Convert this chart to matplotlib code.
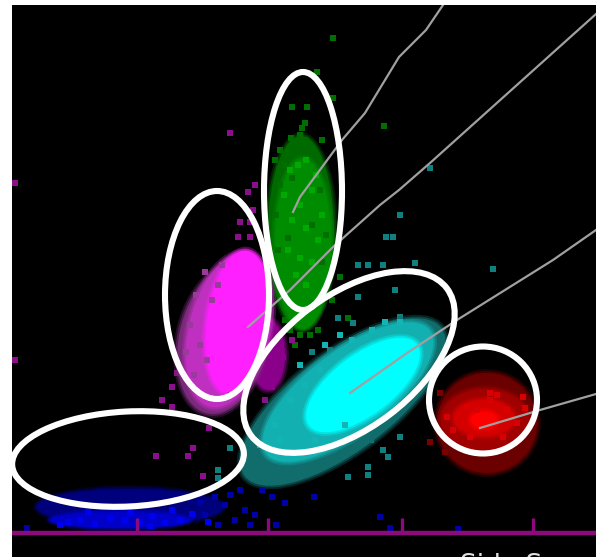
from matplotlib import pyplot as plt
from matplotlib.patches import Ellipse

W, H = 596, 557

# gates: x, y, width, height, angle (pixels of the picture)
GATES = [
    (303, 191, 78, 238, 0),
    (217, 295, 104, 208, 0),
    (349, 362, 245, 133, -37),
    (483, 400, 108, 107, 0),
    (128, 459, 232, 95, -3),
]

# populations, dim to bright
GREEN_BLOB = [(301, 232, 66, 192, 0, '#006a00'), (303, 244, 56, 170, 0, '#008c00')]
MAGENTA_BLOB = [(268, 355, 34, 70, 0, '#8a008a'), (223, 340, 88, 150, 12, '#7a2a7a'),
                (229, 330, 80, 158, 14, '#c030c0'), (237, 322, 60, 144, 8, '#ff20ff')]
CYAN_BLOB = [(343, 402, 246, 98, -37, '#116c6c'), (348, 392, 205, 82, -37, '#12b0b0'),
             (363, 385, 135, 60, -37, '#00ffff')]
RED_BLOB = [(487, 423, 100, 100, 0, '#6a0000'), (485, 420, 88, 62, 0, '#a00000'),
            (484, 418, 60, 36, 0, '#d40000'), (484, 420, 26, 16, 0, '#ff0000')]
BLUE_BLOB = [(130, 507, 186, 36, 0, '#00007c'), (120, 520, 140, 16, 0, '#0000c8')]

GREEN_DOTS_X = [333, 317, 333, 292, 307, 305, 302, 384, 291, 300, 305, 322, 280, 275, 285, 290, 300,
                310, 318, 295, 305, 318, 340, 332, 348]
GREEN_DOTS_Y = [38, 72, 98, 107, 107, 123, 128, 126, 138, 135, 140, 140, 150, 160, 320, 330, 335, 335,
                330, 345, 318, 310, 277, 300, 318]
GREEN_LIGHT_X = [290, 298, 306, 316, 284, 300, 312, 322, 292, 306, 318, 288, 300, 312, 296, 306]
GREEN_LIGHT_Y = [170, 165, 160, 175, 195, 205, 190, 215, 220, 228, 240, 250, 258, 262, 275, 285]
GREEN_DARK_X = [284, 280, 292, 320, 312, 276, 326, 288, 322, 278]
GREEN_DARK_Y = [165, 185, 178, 190, 225, 215, 235, 238, 262, 250]

CYAN_DOTS_X = [430, 393, 386, 400, 358, 368, 383, 415, 493, 358, 395, 338, 353, 400, 312, 300, 388,
               368, 368, 348, 400, 230, 218, 218, 371, 383, 330, 290, 264, 412]
CYAN_DOTS_Y = [168, 237, 237, 215, 265, 265, 265, 263, 269, 297, 290, 318, 323, 317, 352, 365, 457,
               467, 475, 477, 437, 448, 470, 478, 440, 450, 350, 455, 465, 375]
CYAN_MID_X = [325, 340, 352, 372, 385, 400, 320, 305, 290, 275, 300, 260, 280, 315, 345]
CYAN_MID_Y = [345, 335, 340, 330, 322, 322, 370, 385, 400, 425, 365, 445, 440, 440, 425]

MAGENTA_DOTS_X = [15, 15, 230, 248, 255, 240, 250, 253, 238, 250, 162, 172, 172, 177, 209, 193, 188,
                  156, 203, 273, 272, 265, 283, 292, 275]
MAGENTA_DOTS_Y = [183, 360, 133, 192, 185, 222, 222, 210, 237, 237, 400, 387, 407, 373, 428, 448, 456,
                  456, 476, 373, 387, 400, 357, 340, 330]
MAGENTA_DARK_X = [205, 196, 212, 190, 200, 218, 207, 194, 186, 222, 230]
MAGENTA_DARK_Y = [272, 295, 300, 325, 345, 285, 360, 375, 352, 265, 395]

RED_DOTS_X = [467, 490, 497, 523, 447, 477, 507, 453, 517, 470, 503, 490, 525]
RED_DOTS_Y = [407, 393, 395, 397, 417, 410, 410, 430, 423, 437, 437, 400, 408]
RED_DARK_X = [440, 430, 445]
RED_DARK_Y = [393, 442, 452]

BLUE_DOTS_X = [215, 230, 240, 225, 245, 255, 205, 235, 262, 272, 314, 285, 276, 380, 390, 458, 27, 200,
               218, 250]
BLUE_DOTS_Y = [497, 495, 490, 505, 510, 515, 515, 520, 490, 497, 497, 503, 525, 517, 528, 529, 528,
               503, 525, 525]
BLUE_LIGHT_X = [68, 80, 95, 110, 125, 140, 152, 165, 180, 192, 130, 172, 208, 88, 60, 150]
BLUE_LIGHT_Y = [522, 520, 524, 518, 520, 522, 516, 523, 520, 514, 513, 510, 522, 512, 525, 526]

# back-gating traces
TRACE_1_X = [443, 426, 399, 365, 342, 300, 293]
TRACE_1_Y = [5, 30, 57, 113, 140, 197, 212]
TRACE_2_X = [596, 430, 399, 380, 333, 290, 248]
TRACE_2_Y = [14, 163, 190, 205, 247, 290, 327]
TRACE_3_X = [596, 553, 457, 407, 350]
TRACE_3_Y = [230, 260, 320, 353, 393]
TRACE_4_X = [596, 540, 480]
TRACE_4_Y = [394, 410, 428]

AXIS_COLOR = '#8c0a7c'
TICKS = [137, 268, 402, 533]


def draw_blob(ax, layers):
    # a wider see-through ring under each layer keeps the edge soft
    for x, y, w, h, angle, color in layers:
        for grow, alpha in [(8, 0.3), (4, 0.5), (0, 1)]:
            ax.add_patch(Ellipse((x, y), w + grow, h + grow, angle=angle, facecolor=color,
                                 edgecolor='none', alpha=alpha, zorder=2))


def draw_dots(ax, xs, ys, color, zorder=3):
    ax.scatter(xs, ys, s=20, marker='s', color=color, linewidths=0, zorder=zorder)


fig = plt.figure(figsize=(W / 100, H / 100), dpi=100, facecolor='white')
ax = fig.add_axes([12 / W, 0, (W - 12) / W, (H - 5) / H])
ax.set_facecolor('black')
ax.set_xlim(12, W)
ax.set_ylim(H, 5)
ax.axis('off')
ax.add_patch(plt.Rectangle((12, 5), W - 12, H - 5, color='black', zorder=0))

draw_blob(ax, BLUE_BLOB)
draw_dots(ax, BLUE_DOTS_X, BLUE_DOTS_Y, '#0000a8')
draw_dots(ax, BLUE_LIGHT_X, BLUE_LIGHT_Y, '#0000f0')
draw_blob(ax, RED_BLOB)
draw_dots(ax, RED_DOTS_X, RED_DOTS_Y, '#d80000')
draw_dots(ax, RED_DARK_X, RED_DARK_Y, '#7a0000')
draw_dots(ax, GREEN_DOTS_X, GREEN_DOTS_Y, '#006f00', zorder=1)
draw_blob(ax, GREEN_BLOB)
draw_dots(ax, GREEN_LIGHT_X, GREEN_LIGHT_Y, '#00aa00')
draw_dots(ax, GREEN_DARK_X, GREEN_DARK_Y, '#006f00')
draw_blob(ax, MAGENTA_BLOB)
draw_dots(ax, MAGENTA_DOTS_X, MAGENTA_DOTS_Y, '#8a0f8a', zorder=1)
draw_dots(ax, MAGENTA_DARK_X, MAGENTA_DARK_Y, '#9a3a9a')
draw_blob(ax, CYAN_BLOB)
draw_dots(ax, CYAN_DOTS_X, CYAN_DOTS_Y, '#0f7f7f', zorder=1)
draw_dots(ax, CYAN_MID_X, CYAN_MID_Y, '#12b4b4')

for xs, ys in [(TRACE_1_X, TRACE_1_Y), (TRACE_2_X, TRACE_2_Y), (TRACE_3_X, TRACE_3_Y), (TRACE_4_X, TRACE_4_Y)]:
    ax.plot(xs, ys, color='#a0a0a0', lw=1.6, zorder=4)

ax.plot([12, W], [533, 533], color=AXIS_COLOR, lw=3.2, solid_capstyle='butt', zorder=5)
ax.vlines(TICKS, 518, 533, color=AXIS_COLOR, lw=2.4, zorder=5)

for x, y, w, h, angle in GATES:
    ax.add_patch(Ellipse((x, y), w, h, angle=angle, facecolor='none', edgecolor='white', lw=4.4, zorder=6))

# cut off by the lower edge, as in the reference
ax.text(460, 553, 'Side Sc', color='#e0e0e0', fontsize=19, va='top', ha='left', clip_on=True, zorder=6)

fig.savefig('out.png', dpi=100, facecolor='white')
